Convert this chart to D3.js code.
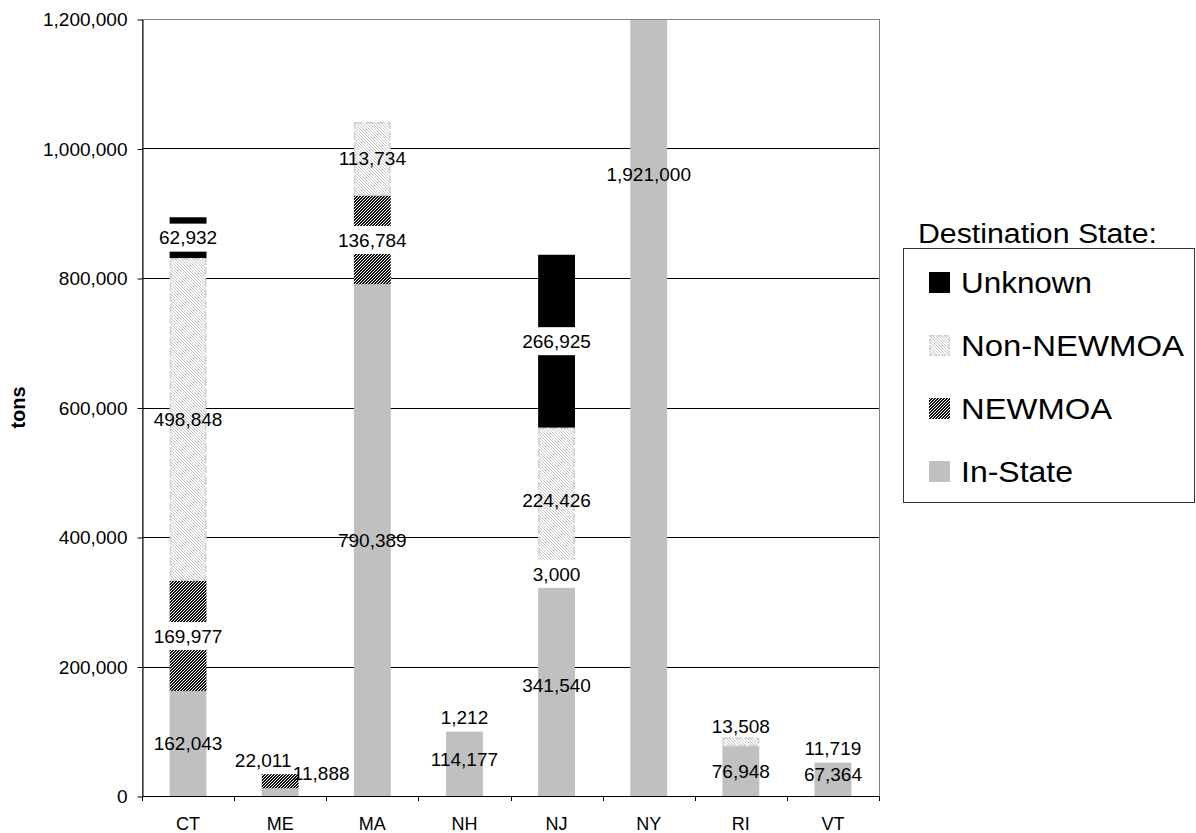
<!DOCTYPE html>
<html>
<head>
<meta charset="utf-8">
<script src="https://cdn.jsdelivr.net/npm/d3@7/dist/d3.min.js"></script>
<style>
  html, body { margin: 0; padding: 0; background: #fff; }
  svg { display: block; font-family: "Liberation Sans", Arial, sans-serif; }
</style>
</head>
<body>
<svg id="chart" width="1196" height="833"></svg>
<script>
// Tons shipped by origin state, split by destination
const states     = ["CT", "ME", "MA", "NH", "NJ", "NY", "RI", "VT"];
const inState    = [162043, 11888, 790389, 114177, 341540, 1921000, 76948, 67364];
const newmoa     = [169977, 22011, 136784, 1212, 3000, 0, 0, 11719];
const nonNewmoa  = [498848, 0, 113734, 0, 224426, 0, 13508, 0];
const unknown    = [62932, 0, 0, 0, 266925, 0, 0, 0];

const seriesKeys = ["In-State", "NEWMOA", "Non-NEWMOA", "Unknown"];
const legendOrder = ["Unknown", "Non-NEWMOA", "NEWMOA", "In-State"];
const yTicks = [0, 200000, 400000, 600000, 800000, 1000000, 1200000];

// Hand-placed labels for segments too thin to hold their text (pixel nudges)
const labelNudges = [
  { state: "ME", key: "NEWMOA",     dx: -17, dy: -21 },
  { state: "ME", key: "In-State",   dx: 41,  dy: -19 },
  { state: "RI", key: "Non-NEWMOA", dx: 0,   dy: -15 },
  { state: "NH", key: "NEWMOA",     dx: 0,   dy: -4 }
];
// Legend text widths
const legendTextWidths = { "Unknown": 131, "Non-NEWMOA": 223, "NEWMOA": 151, "In-State": 112 };

const table = states.map((s, i) => ({
  state: s,
  "In-State": inState[i],
  "NEWMOA": newmoa[i],
  "Non-NEWMOA": nonNewmoa[i],
  "Unknown": unknown[i]
}));

const svg = d3.select("#chart");
const plot = { left: 142, right: 879, top: 19, bottom: 796 };

const x = d3.scaleBand().domain(states)
  .range([plot.left, plot.right]).paddingInner(0.6).paddingOuter(0.3);
const y = d3.scaleLinear().domain([0, 1200000]).range([plot.bottom, plot.top]);

// ---- fill patterns ----
const defs = svg.append("defs");
function pixelPattern(id, size, color, test) {
  const p = defs.append("pattern").attr("id", id)
    .attr("patternUnits", "userSpaceOnUse").attr("width", size).attr("height", size);
  p.append("rect").attr("width", size).attr("height", size).attr("fill", "#fff");
  for (let i = 0; i < size; i++) for (let j = 0; j < size; j++) {
    if (test(i, j)) p.append("rect").attr("x", i).attr("y", j)
      .attr("width", 1).attr("height", 1).attr("fill", color);
  }
}
pixelPattern("hatchDark", 3, "#111", (i, j) => (i + j) % 3 < 2);
pixelPattern("hatchLight", 3, "#c4c4c4", (i, j) => ((i - j + 6) % 3) === 0);

defs.append("clipPath").attr("id", "plotClip").append("rect")
  .attr("x", plot.left).attr("y", plot.top)
  .attr("width", plot.right - plot.left).attr("height", plot.bottom - plot.top);

const fills = {
  "In-State": "#c0c0c0",
  "NEWMOA": "url(#hatchDark)",
  "Non-NEWMOA": "url(#hatchLight)",
  "Unknown": "#000"
};

// ---- gridlines ----
svg.append("g").selectAll("line")
  .data(yTicks.filter(v => v > 0 && v < 1200000))
  .join("line")
  .attr("x1", plot.left).attr("x2", plot.right)
  .attr("y1", d => Math.round(y(d)) + 0.5).attr("y2", d => Math.round(y(d)) + 0.5)
  .attr("stroke", "#000").attr("stroke-width", 1);

// ---- bars ----
const stacked = d3.stack().keys(seriesKeys)(table);
const barG = svg.append("g").attr("clip-path", "url(#plotClip)");
stacked.forEach(layer => {
  const key = layer.key;
  const segs = layer.filter(d => d.data[key] > 0);
  const sel = barG.append("g").selectAll("rect").data(segs).join("rect")
    .attr("fill", fills[key]);
  if (key === "Non-NEWMOA") {
    sel.attr("x", d => x(d.data.state) + 0.75)
      .attr("width", x.bandwidth() - 1.5)
      .attr("y", d => y(d[1]) + 0.75)
      .attr("height", d => Math.max(0, y(d[0]) - y(d[1]) - 1.5))
      .attr("stroke", "#cfcfcf").attr("stroke-width", 1.5)
      .attr("stroke-dasharray", "8,3");
  } else {
    sel.attr("x", d => x(d.data.state))
      .attr("width", x.bandwidth())
      .attr("y", d => y(d[1]))
      .attr("height", d => y(d[0]) - y(d[1]));
  }
});

// ---- plot border ----
svg.append("rect")
  .attr("x", plot.left + 0.5).attr("y", plot.top + 0.5)
  .attr("width", plot.right - plot.left).attr("height", plot.bottom - plot.top)
  .attr("fill", "none").attr("stroke", "#808080").attr("stroke-width", 1);

// ---- y axis ----
const yAxis = svg.append("g")
  .attr("transform", `translate(${plot.left + 0.5},0.5)`)
  .call(d3.axisLeft(y).tickValues(yTicks).tickFormat(d3.format(","))
    .tickSize(5).tickSizeOuter(0).tickPadding(10));
yAxis.selectAll("text").attr("font-size", 19).attr("fill", "#000")
  .attr("font-family", '"Liberation Sans", Arial, sans-serif');
yAxis.selectAll("line,path").attr("stroke", "#000");

// ---- x axis ----
const xAxis = svg.append("g");
xAxis.append("line")
  .attr("x1", plot.left).attr("x2", plot.right + 1)
  .attr("y1", plot.bottom + 0.5).attr("y2", plot.bottom + 0.5)
  .attr("stroke", "#000");
xAxis.selectAll("line.tick").data(d3.range(states.length + 1)).join("line")
  .attr("class", "tick")
  .attr("x1", i => Math.round(plot.left + i * x.step()) + 0.5)
  .attr("x2", i => Math.round(plot.left + i * x.step()) + 0.5)
  .attr("y1", plot.bottom).attr("y2", plot.bottom + 5)
  .attr("stroke", "#000");
xAxis.selectAll("text").data(states).join("text")
  .attr("x", d => x(d) + x.bandwidth() / 2)
  .attr("y", plot.bottom + 34)
  .attr("text-anchor", "middle").attr("font-size", 18).attr("fill", "#000")
  .text(d => d);

// ---- y axis title ----
svg.append("text")
  .attr("transform", `translate(25,${(plot.top + plot.bottom) / 2}) rotate(-90)`)
  .attr("text-anchor", "middle").attr("font-size", 20).attr("font-weight", "bold")
  .text("tons");

// ---- data labels ----
const fmt = d3.format(",");
const labelG = svg.append("g");
stacked.forEach(layer => {
  const key = layer.key;
  const boxed = key === "NEWMOA" || key === "Unknown";
  layer.filter(d => d.data[key] > 0).forEach(d => {
    const nudge = labelNudges.find(n => n.state === d.data.state && n.key === key)
      || { dx: 0, dy: 0 };
    const cx = x(d.data.state) + x.bandwidth() / 2 + nudge.dx;
    const cy = y((d[0] + d[1]) / 2) + nudge.dy;
    const g = labelG.append("g");
    const t = g.append("text")
      .attr("x", cx).attr("y", cy).attr("dy", "0.35em")
      .attr("text-anchor", "middle").attr("font-size", 19).attr("fill", "#000")
      .text(fmt(d.data[key]));
    if (boxed) {
      const bb = t.node().getBBox();
      g.insert("rect", "text")
        .attr("x", bb.x - 2).attr("width", bb.width + 4)
        .attr("y", cy - 14).attr("height", 28)
        .attr("fill", "#fff");
    }
  });
});

// ---- legend ----
const legend = svg.append("g");
legend.append("text")
  .attr("x", 918).attr("y", 243)
  .attr("font-size", 27).attr("textLength", 239)
  .attr("lengthAdjust", "spacingAndGlyphs")
  .text("Destination State:");
legend.append("rect")
  .attr("x", 903.5).attr("y", 248.5).attr("width", 291).attr("height", 254)
  .attr("fill", "#fff").attr("stroke", "#333").attr("stroke-width", 1);
legendOrder.forEach((key, i) => {
  const base = 293 + i * 63;
  const m = legend.append("rect")
    .attr("x", 929).attr("y", base - 21).attr("width", 21).attr("height", 21)
    .attr("fill", fills[key]);
  if (key === "Non-NEWMOA") {
    m.attr("x", 929.75).attr("y", base - 20.25).attr("width", 19.5).attr("height", 19.5)
      .attr("stroke", "#cfcfcf").attr("stroke-width", 1.5).attr("stroke-dasharray", "5,2");
  }
  legend.append("text")
    .attr("x", 961).attr("y", base)
    .attr("font-size", 29).attr("textLength", legendTextWidths[key])
    .attr("lengthAdjust", "spacingAndGlyphs")
    .text(key);
});
</script>
</body>
</html>
